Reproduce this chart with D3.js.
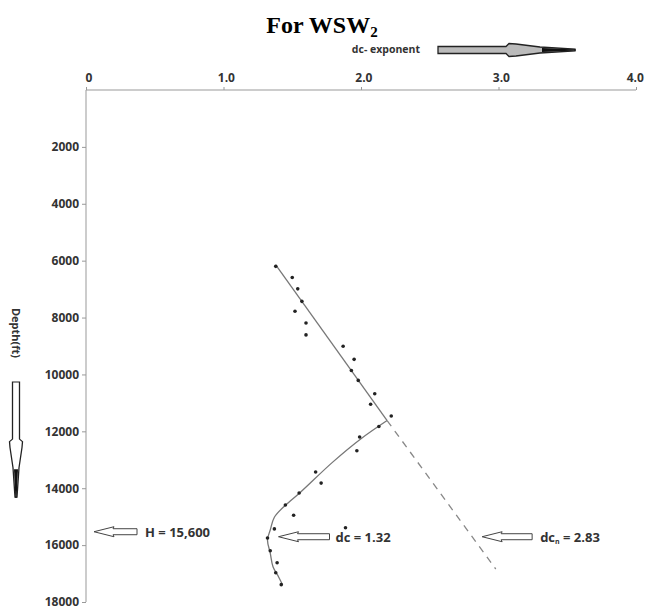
<!DOCTYPE html>
<html>
<head>
<meta charset="utf-8">
<script src="https://cdn.jsdelivr.net/npm/d3@7"></script>
<style>
  body { margin: 0; background: #fff; }
  text { font-family: "Open Sans", "Liberation Sans", sans-serif; }
</style>
</head>
<body>
<div id="chart"></div>
<script>
// dc-exponent readings vs depth
const dcValues = [1.38, 1.50, 1.54, 1.57, 1.52, 1.60, 1.60, 1.87, 1.95, 1.93, 1.98, 2.10, 2.07, 2.22,
                  2.13, 1.99, 1.97, 1.67, 1.71, 1.55, 1.45, 1.51, 1.37, 1.32, 1.34, 1.39, 1.38, 1.42];
const depthValues = [6200, 6590, 6990, 7430, 7780, 8190, 8610, 9010, 9470, 9860, 10210, 10680, 11050, 11460,
                     11830, 12200, 12680, 13430, 13820, 14170, 14590, 14950, 15430, 15750, 16200, 16620, 16970, 17390];

// normal compaction trend (solid part, then dashed extension)
const trendDc = [1.38, 2.19];
const trendDepth = [6150, 11620];
const trendExtDc = [2.19, 2.98];
const trendExtDepth = [11620, 16840];

// abnormal pressure curve
const curveDc = [2.19, 2.00, 1.79, 1.56, 1.45, 1.37, 1.34, 1.32, 1.34, 1.36, 1.40, 1.43];
const curveDepth = [11620, 12260, 13100, 14140, 14600, 15020, 15470, 15820, 16280, 16760, 17110, 17400];

const xTicks = [0, 1, 2, 3, 4];
const xTickLabels = ["0", "1.0", "2.0", "3.0", "4.0"];
const yTicks = [2000, 4000, 6000, 8000, 10000, 12000, 14000, 16000, 18000];

const H = 15600, dcObs = 1.32, dcNormal = 2.83;

const width = 647, height = 612;
const svg = d3.select("#chart").append("svg")
    .attr("width", width)
    .attr("height", height);

const x = d3.scaleLinear().domain([0, 4]).range([86, 636]);
const y = d3.scaleLinear().domain([0, 18000]).range([90, 602]);

// title
svg.append("text")
    .attr("x", 322).attr("y", 33)
    .attr("text-anchor", "middle")
    .style("font-family", "'Liberation Serif', 'Times New Roman', serif")
    .style("font-weight", "bold")
    .style("font-size", "24px")
    .text("For WSW")
    .append("tspan")
    .attr("dy", 4)
    .style("font-size", "15px")
    .text("2");

// x axis on top
const xAxis = svg.append("g")
    .attr("transform", `translate(0,${y(0)})`)
    .call(d3.axisTop(x).tickValues(xTicks).tickSize(3).tickFormat((d, i) => xTickLabels[i]));
xAxis.selectAll("text").attr("dy", "-0.2em").attr("dx", (d, i) => i === 4 ? "-0.1em" : "0.2em")
    .style("font-size", "12px").style("font-weight", "bold").attr("fill", "#333");

// y axis
const yAxis = svg.append("g")
    .attr("transform", `translate(${x(0)},0)`)
    .call(d3.axisLeft(y).tickValues(yTicks).tickSize(4).tickFormat(d3.format("d")));
yAxis.selectAll("text").style("font-size", "12px").style("font-weight", "bold").attr("fill", "#333");
svg.selectAll(".domain, .tick line").attr("stroke", "#999");
xAxis.select(".domain").attr("d", `M${x(0)},0H${x(4)}`);
yAxis.select(".domain").attr("d", `M0,${y(0)}V${y(18000)}`);

// axis titles
svg.append("text")
    .attr("x", 420).attr("y", 53)
    .attr("text-anchor", "end")
    .style("font-size", "10.5px").style("font-weight", "bold").attr("fill", "#333")
    .text("dc- exponent");

svg.append("text")
    .attr("transform", `translate(12,${333}) rotate(90)`)
    .attr("text-anchor", "middle")
    .style("font-size", "11px").style("font-weight", "bold").attr("fill", "#333")
    .text("Depth(ft)");

// arrow helpers (annotation shapes)
function bigArrow(g, fill) {
  // pointing right, origin at tail centre
  g.append("path")
    .attr("d", "M0,-3.5 H68 L71,-6.5 L78,-6 L102,-3 L137,-1 L137,1 L102,3 L78,6 L71,6.5 L68,3.5 H0 Z")
    .attr("fill", fill).attr("stroke", "#222").attr("stroke-width", 1.3);
  g.append("path")
    .attr("d", "M104,-2 L138,-0.6 L138,0.6 L104,2 Z").attr("fill", "#111");
}
bigArrow(svg.append("g").attr("transform", "translate(438,50)"), "#bbb");
bigArrow(svg.append("g").attr("transform", "translate(16,382) rotate(90) scale(0.84,1)"), "#fff");

function leftArrow(xTip, yy, len) {
  svg.append("path")
    .attr("transform", `translate(${xTip},${yy})`)
    .attr("d", `M0,0 L20,-5 L19,-3 H${len} V3 H19 L20,5 Z`)
    .attr("fill", "#fff").attr("stroke", "#444").attr("stroke-width", 1);
}

// trend lines
const line = d3.line().x(d => x(d[0])).y(d => y(d[1]));
svg.append("path")
    .datum(d3.zip(trendDc, trendDepth))
    .attr("d", line)
    .attr("fill", "none").attr("stroke", "#777").attr("stroke-width", 1.3);
svg.append("path")
    .datum(d3.zip(trendExtDc, trendExtDepth))
    .attr("d", line)
    .attr("fill", "none").attr("stroke", "#888").attr("stroke-width", 1.3)
    .attr("stroke-dasharray", "7,6");
svg.append("path")
    .datum(d3.zip(curveDc, curveDepth))
    .attr("d", line.curve(d3.curveCatmullRom))
    .attr("fill", "none").attr("stroke", "#777").attr("stroke-width", 1.3);

// data points
svg.append("g").selectAll("circle")
    .data(d3.zip(dcValues, depthValues))
    .join("circle")
    .attr("cx", d => x(d[0]))
    .attr("cy", d => y(d[1]))
    .attr("r", 1.8)
    .attr("fill", "#222");

// annotations
const ay = y(H);
leftArrow(x(0) + 8, ay - 2, 43);
svg.append("text").attr("x", x(0) + 59).attr("y", ay + 3)
    .style("font-size", "13px").style("font-weight", "bold").attr("fill", "#333")
    .text("H = " + d3.format(",")(H));

leftArrow(x(dcObs) + 11, ay + 3, 51);
svg.append("text").attr("x", x(dcObs) + 68).attr("y", ay + 8)
    .style("font-size", "13px").style("font-weight", "bold").attr("fill", "#333")
    .text("dc = " + dcObs.toFixed(2));
svg.append("circle").attr("cx", x(dcObs) + 78).attr("cy", ay - 6).attr("r", 1.8).attr("fill", "#222");

leftArrow(x(dcNormal) + 7, ay + 3, 50);
const t2 = svg.append("text").attr("x", x(dcNormal) + 65).attr("y", ay + 8)
    .style("font-size", "13px").style("font-weight", "bold").attr("fill", "#333");
t2.append("tspan").text("dc");
t2.append("tspan").attr("dy", 2).style("font-size", "7px").text("n");
t2.append("tspan").attr("dy", -2).text(" = " + dcNormal.toFixed(2));
</script>
</body>
</html>
